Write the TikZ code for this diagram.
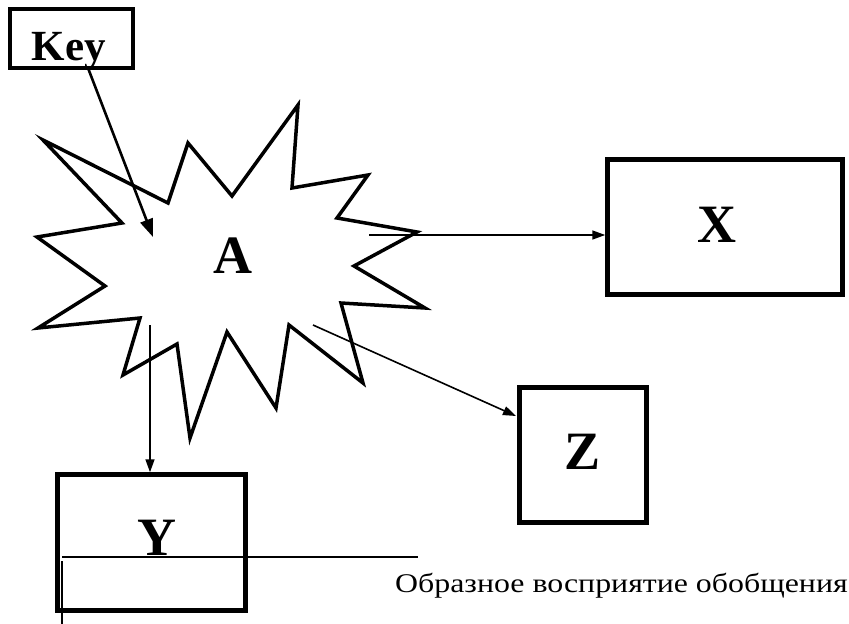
\documentclass[tikz,border=0pt]{standalone}
\usepackage{fontspec}
\usepackage{graphicx}
\setmainfont{Liberation Serif}
\usetikzlibrary{arrows.meta}
\tikzset{
  box/.style={draw, line width=4.5pt, rectangle, inner sep=0pt},
  letter/.style={font=\bfseries\fontsize{54}{54}\selectfont, inner sep=0pt, anchor=base},
  conn/.style={line width=1.6pt, -{Triangle[length=13pt,width=9pt]}},
  burst/.style={line width=3.5pt, line join=miter, miter limit=10},
}
\begin{document}
\begin{tikzpicture}[x=1pt, y=-1pt]
\useasboundingbox (0,0) rectangle (849,624);

% star-shaped outline around A
\draw[burst] (43,140) -- (168,203) -- (188,143) -- (232,196) -- (298,105)
  -- (292,188) -- (368,175) -- (337,218) -- (417,232) -- (354,266)
  -- (425,308) -- (341,303) -- (363,383) -- (289,325) -- (276,408)
  -- (227,332) -- (190,438) -- (177,344) -- (123,375) -- (140,318)
  -- (38,328) -- (105,286) -- (37,237) -- (122,223) -- cycle;

% boxes
\node[box, minimum width=123pt, minimum height=59pt] (key) at (71.5,38.5) {};
\node[box, minimum width=235pt, minimum height=135pt] (X) at (725,227) {};
\node[box, minimum width=127pt, minimum height=135pt] (Z) at (583,455) {};
\node[box, minimum width=188pt, minimum height=136pt] (Y) at (151.5,542.5) {};

% labels
\node[letter, font=\bfseries\fontsize{43}{43}\selectfont] (keyl) at (69,60) {Key};
\node[letter] (A) at (233,273) {A};
\node[letter] (Xl) at (717,242) {X};
\node[letter] (Zl) at (583,469) {Z};
\node[letter] (Yl) at (157,555) {Y};

% connector end points inside the star
\coordinate (keyend) at (88,68);
\coordinate (kin) at (153,237);
\coordinate (xout) at (369,235);
\coordinate (zout) at (313,325);
\coordinate (yout) at (150,325);

\draw[line width=2.6pt, -{Triangle[length=18pt,width=13pt]}] (keyend) -- (kin);
\draw[conn] (xout) -- (X.west |- xout);
\draw[conn] (zout) -- (516,416);
\draw[conn] (yout) -- (yout |- Y.north);

% underline with the caption
\coordinate (ul) at (62,557);
\coordinate (ur) at (418,557);
\coordinate (vt) at (62,561);
\coordinate (vb) at (62,624);
\draw[line width=1.6pt] (ul) -- (ur);
\draw[line width=1.6pt] (vt) -- (vb);
\node[font=\fontsize{27}{27}\selectfont, inner sep=0pt, anchor=base west] (cap) at (395,592) {\scalebox{1.18}[1]{Образное восприятие обобщения}};
\end{tikzpicture}
\end{document}
